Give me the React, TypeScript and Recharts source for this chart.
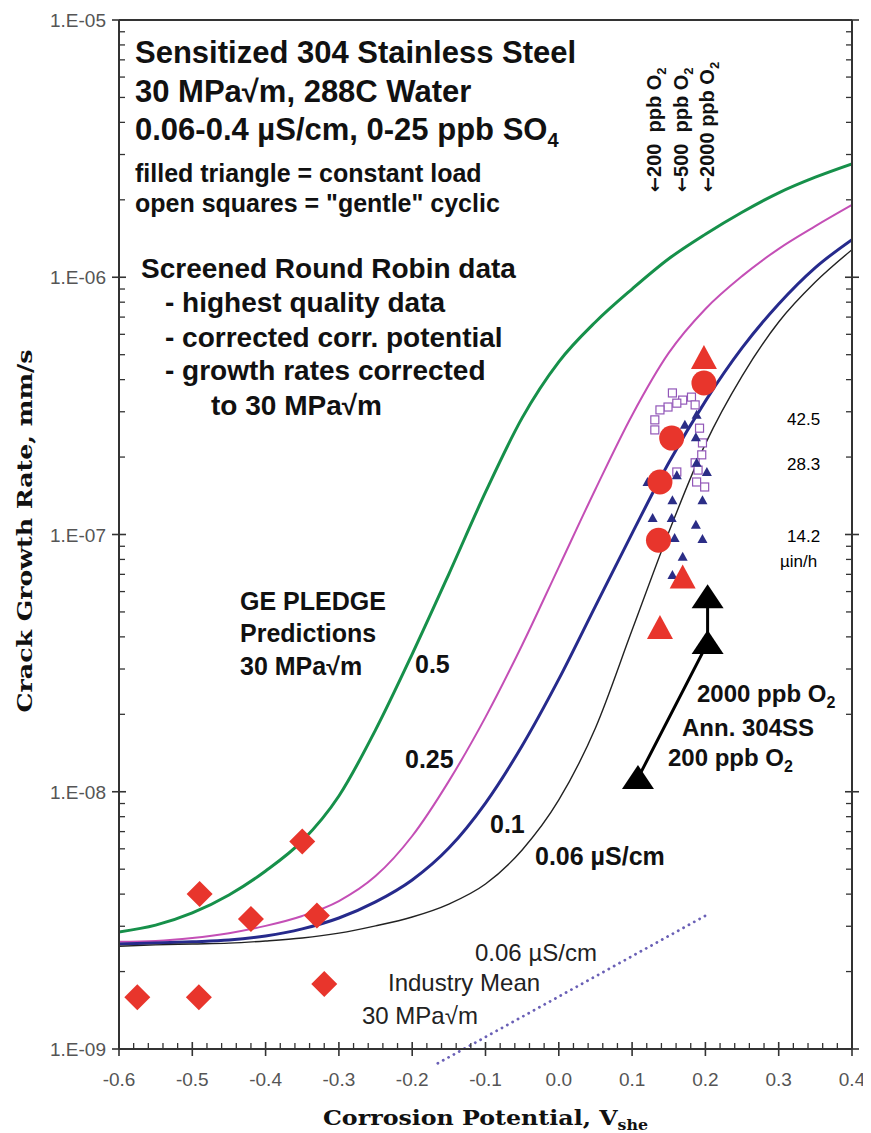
import React from 'react';
import { ComposedChart, Line, Scatter, XAxis, YAxis, ReferenceLine } from 'recharts';

// Corrosion potential grid (V_she) on which the PLEDGE curves are tabulated
const potentials = [-0.6, -0.55, -0.5, -0.45, -0.4, -0.35, -0.3, -0.25, -0.2, -0.15, -0.1, -0.05, 0, 0.05, 0.1, 0.15, 0.2, 0.25, 0.3, 0.35, 0.4];

// GE PLEDGE predictions, crack growth rate in mm/s, one list per conductivity (uS/cm)
const pledge05 = [2.85e-9, 3.03e-9, 3.38e-9, 3.97e-9, 4.92e-9, 6.44e-9, 9.63e-9, 1.74e-8, 3.43e-8, 7.02e-8, 1.46e-7, 2.84e-7, 4.69e-7, 6.7e-7, 9.0e-7, 1.18e-6, 1.47e-6, 1.79e-6, 2.13e-6, 2.45e-6, 2.76e-6];
const pledge025 = [2.61e-9, 2.63e-9, 2.7e-9, 2.82e-9, 3.01e-9, 3.29e-9, 3.76e-9, 4.7e-9, 6.73e-9, 1.1e-8, 1.95e-8, 3.72e-8, 7.47e-8, 1.5e-7, 2.91e-7, 5.08e-7, 7.53e-7, 1.01e-6, 1.29e-6, 1.58e-6, 1.91e-6];
const pledge01 = [2.56e-9, 2.58e-9, 2.61e-9, 2.65e-9, 2.75e-9, 2.93e-9, 3.23e-9, 3.73e-9, 4.54e-9, 6.04e-9, 9.04e-9, 1.51e-8, 2.74e-8, 5.27e-8, 1.01e-7, 1.9e-7, 3.3e-7, 5.31e-7, 7.87e-7, 1.09e-6, 1.4e-6];
const pledge006 = [2.51e-9, 2.54e-9, 2.56e-9, 2.58e-9, 2.63e-9, 2.7e-9, 2.82e-9, 3.01e-9, 3.26e-9, 3.66e-9, 4.38e-9, 5.94e-9, 9.29e-9, 1.77e-8, 4.25e-8, 1.02e-7, 2.25e-7, 4.13e-7, 6.7e-7, 9.58e-7, 1.28e-6];

// Industry mean line for 0.06 uS/cm (end points)
const industryMean = [
  { x: -0.165, y: 8.8e-10 },
  { x: 0.202, y: 3.32e-9 },
];

// Screened round robin data
const roundRobinCircles = [
  { x: 0.198, y: 3.88e-7 },
  { x: 0.154, y: 2.37e-7 },
  { x: 0.138, y: 1.6e-7 },
  { x: 0.136, y: 9.5e-8 },
];
const roundRobinTriangles = [
  { x: 0.198, y: 4.85e-7 },
  { x: 0.169, y: 6.8e-8 },
  { x: 0.138, y: 4.33e-8 },
];
const lowPotentialDiamonds = [
  { x: -0.575, y: 1.59e-9 },
  { x: -0.491, y: 1.59e-9 },
  { x: -0.32, y: 1.79e-9 },
  { x: -0.49, y: 4.0e-9 },
  { x: -0.42, y: 3.2e-9 },
  { x: -0.33, y: 3.3e-9 },
  { x: -0.35, y: 6.4e-9 },
];

// constant load (filled triangles) and "gentle" cyclic (open squares)
const constantLoad = [
  { x: 0.172, y: 2.67e-7 }, { x: 0.188, y: 2.92e-7 }, { x: 0.187, y: 2.39e-7 },
  { x: 0.161, y: 1.7e-7 }, { x: 0.202, y: 1.75e-7 }, { x: 0.121, y: 1.6e-7 },
  { x: 0.155, y: 1.36e-7 }, { x: 0.196, y: 1.36e-7 }, { x: 0.128, y: 1.16e-7 },
  { x: 0.154, y: 1.16e-7 }, { x: 0.187, y: 1.09e-7 }, { x: 0.158, y: 9.7e-8 },
  { x: 0.196, y: 9.6e-8 }, { x: 0.169, y: 8.2e-8 }, { x: 0.155, y: 6.96e-8 },
  { x: 0.188, y: 1.9e-7 },
];
const gentleCyclic = [
  { x: 0.155, y: 3.55e-7 }, { x: 0.169, y: 3.33e-7 }, { x: 0.181, y: 3.42e-7 },
  { x: 0.149, y: 3.13e-7 }, { x: 0.138, y: 3.05e-7 }, { x: 0.131, y: 2.79e-7 },
  { x: 0.131, y: 2.55e-7 }, { x: 0.161, y: 3.24e-7 }, { x: 0.192, y: 2.59e-7 },
  { x: 0.196, y: 2.27e-7 }, { x: 0.195, y: 2.04e-7 }, { x: 0.186, y: 1.9e-7 },
  { x: 0.19, y: 1.78e-7 }, { x: 0.161, y: 1.75e-7 }, { x: 0.188, y: 1.6e-7 },
  { x: 0.199, y: 1.53e-7 }, { x: 0.186, y: 3.19e-7 },
];

// annealed 304SS, 200 -> 2000 ppb O2
const annealed = [
  { x: 0.108, y: 1.13e-8 },
  { x: 0.203, y: 3.79e-8 },
  { x: 0.203, y: 5.7e-8 },
];

// axis ticks: majors every 0.1 V / decade, minors in between
const xMajor = [-0.6, -0.5, -0.4, -0.3, -0.2, -0.1, 0, 0.1, 0.2, 0.3, 0.4];
const xTicks: number[] = [];
for (let i = 0; i <= 50; i++) xTicks.push(Math.round((-0.6 + i * 0.02) * 100) / 100);
const yDecades = [1e-9, 1e-8, 1e-7, 1e-6, 1e-5];
const yTicks: number[] = [];
yDecades.forEach((d, i) => {
  if (i === yDecades.length - 1) { yTicks.push(d); return; }
  for (let m = 1; m <= 9; m++) yTicks.push(m * d);
});

const toPoints = (ys: number[]) => potentials.map((x, i) => ({ x, y: ys[i] }));

const AXIS = '#333';
const SANS = '"Liberation Sans", Arial, sans-serif';
const SERIF = '"DejaVu Serif", serif';
const RED = '#e8352c';

const isXMajor = (v: number) => xMajor.some((m) => Math.abs(m - v) < 1e-6);
const isYMajor = (v: number) => Math.abs(Math.log10(v) - Math.round(Math.log10(v))) < 1e-6;

const XTick = (props: any) => {
  const { x, y, payload, side } = props;
  const v = payload.value;
  const major = isXMajor(v);
  const inward = side === 'bottom' ? -1 : 1;
  return (
    <g>
      {major ? (
        <line x1={x} x2={x} y1={y - 7} y2={y + 7} stroke={AXIS} strokeWidth={1.6} />
      ) : (
        <line x1={x} x2={x} y1={y} y2={y + inward * 6} stroke={AXIS} strokeWidth={1.3} />
      )}
      {major && side === 'bottom' && (
        <text x={x} y={y + 37} textAnchor="middle" fontFamily={SANS} fontSize={19} fill="#555">
          {v.toFixed(1)}
        </text>
      )}
    </g>
  );
};

const YTick = (props: any) => {
  const { x, y, payload, side } = props;
  const v = payload.value;
  const major = isYMajor(v);
  const inward = side === 'left' ? 1 : -1;
  const exp = -Math.round(Math.log10(v));
  return (
    <g>
      {major ? (
        <line x1={x - 7} x2={x + 7} y1={y} y2={y} stroke={AXIS} strokeWidth={1.6} />
      ) : (
        <line x1={x} x2={x + inward * 6} y1={y} y2={y} stroke={AXIS} strokeWidth={1.3} />
      )}
      {major && side === 'left' && (
        <text x={x - 13} y={y + 7} textAnchor="end" fontFamily={SANS} fontSize={19} fill="#555">
          {`1.E-${String(exp).padStart(2, '0')}`}
        </text>
      )}
    </g>
  );
};

const Diamond = (p: any) => (
  <polygon points={`${p.cx},${p.cy - 13} ${p.cx + 13},${p.cy} ${p.cx},${p.cy + 13} ${p.cx - 13},${p.cy}`} fill={RED} />
);
const BigCircle = (p: any) => <circle cx={p.cx} cy={p.cy} r={12.5} fill={RED} />;
const BigTriangle = (p: any) => (
  <polygon points={`${p.cx},${p.cy - 13} ${p.cx + 13},${p.cy + 11} ${p.cx - 13},${p.cy + 11}`} fill={RED} />
);
const BlackTriangle = (p: any) => (
  <polygon points={`${p.cx},${p.cy - 13} ${p.cx + 16},${p.cy + 11} ${p.cx - 16},${p.cy + 11}`} fill="#000" />
);
const SmallTriangle = (p: any) => (
  <polygon points={`${p.cx},${p.cy - 5} ${p.cx + 5},${p.cy + 4} ${p.cx - 5},${p.cy + 4}`} fill="#2b2d86" />
);
const OpenSquare = (p: any) => (
  <rect x={p.cx - 4} y={p.cy - 4} width={8} height={8} fill="#fff" stroke="#9257b8" strokeWidth={1.2} />
);

const Sub = ({ children, size }: { children: React.ReactNode; size: number }) => (
  <tspan fontSize={size} dy={size * 0.35}>{children}</tspan>
);

// rotated oxygen level label, arrow first so it points down once turned
const O2Label = ({ x, level }: { x: number; level: string }) => (
  <text
    transform={`translate(${x},192) rotate(-90)`}
    fontFamily={SANS}
    fontWeight="bold"
    fontSize={20}
    fill="#111"
    style={{ whiteSpace: 'pre' }}
  >
    <tspan fontFamily='"DejaVu Sans", sans-serif' fontSize={18}>←</tspan>
    {`${level} ppb O`}
    <Sub size={13}>2</Sub>
  </text>
);

const App: React.FC = () => {
  const bold = { fontFamily: SANS, fontWeight: 700, fill: '#111' } as const;
  const plain = { fontFamily: SANS, fill: '#222' } as const;
  return (
    <div style={{ position: 'relative', width: 863, height: 1125, background: '#fff' }}>
      <ComposedChart width={863} height={1125} margin={{ top: 0, right: 0, bottom: 0, left: 0 }}>
        <XAxis
          xAxisId="x"
          dataKey="x"
          type="number"
          domain={[-0.6, 0.4]}
          allowDataOverflow
          ticks={xTicks}
          interval={0}
          height={84}
          tickSize={0}
          tickMargin={0}
          tickLine={false}
          axisLine={{ stroke: AXIS, strokeWidth: 2 }}
          tick={(p: any) => <XTick {...p} side="bottom" />}
        />
        <XAxis
          xAxisId="top"
          orientation="top"
          type="number"
          domain={[-0.6, 0.4]}
          allowDataOverflow
          ticks={xTicks}
          interval={0}
          height={12}
          tickSize={0}
          tickMargin={0}
          tickLine={false}
          axisLine={{ stroke: AXIS, strokeWidth: 2 }}
          tick={(p: any) => <XTick {...p} side="top" />}
        />
        <YAxis
          yAxisId="y"
          dataKey="y"
          type="number"
          scale="log"
          domain={[1e-9, 1e-5]}
          allowDataOverflow
          ticks={yTicks}
          interval={0}
          width={111}
          tickSize={0}
          tickMargin={0}
          tickLine={false}
          axisLine={{ stroke: AXIS, strokeWidth: 2 }}
          tick={(p: any) => <YTick {...p} side="left" />}
        />
        <YAxis
          yAxisId="right"
          orientation="right"
          type="number"
          scale="log"
          domain={[1e-9, 1e-5]}
          allowDataOverflow
          ticks={yTicks}
          interval={0}
          width={19}
          tickSize={0}
          tickMargin={0}
          tickLine={false}
          axisLine={{ stroke: AXIS, strokeWidth: 2 }}
          tick={(p: any) => <YTick {...p} side="right" />}
        />

        <ReferenceLine
          xAxisId="x"
          yAxisId="y"
          segment={industryMean}
          ifOverflow="visible"
          stroke="#6a60b6"
          strokeWidth={2.8}
          strokeDasharray="0.1 6"
          strokeLinecap="round"
        />

        <Line xAxisId="x" yAxisId="y" data={toPoints(pledge05)} dataKey="y" type="monotone" stroke="#16904a" strokeWidth={3} dot={false} isAnimationActive={false} />
        <Line xAxisId="x" yAxisId="y" data={toPoints(pledge025)} dataKey="y" type="monotone" stroke="#c44fb6" strokeWidth={2} dot={false} isAnimationActive={false} />
        <Line xAxisId="x" yAxisId="y" data={toPoints(pledge01)} dataKey="y" type="monotone" stroke="#262a8c" strokeWidth={3} dot={false} isAnimationActive={false} />
        <Line xAxisId="x" yAxisId="y" data={toPoints(pledge006)} dataKey="y" type="monotone" stroke="#222" strokeWidth={1.4} dot={false} isAnimationActive={false} />

        <Scatter xAxisId="x" yAxisId="y" data={gentleCyclic} dataKey="y" shape={OpenSquare} isAnimationActive={false} />
        <Scatter xAxisId="x" yAxisId="y" data={constantLoad} dataKey="y" shape={SmallTriangle} isAnimationActive={false} />
        <Scatter xAxisId="x" yAxisId="y" data={lowPotentialDiamonds} dataKey="y" shape={Diamond} isAnimationActive={false} />
        <Scatter xAxisId="x" yAxisId="y" data={roundRobinTriangles} dataKey="y" shape={BigTriangle} isAnimationActive={false} />
        <Scatter xAxisId="x" yAxisId="y" data={roundRobinCircles} dataKey="y" shape={BigCircle} isAnimationActive={false} />

        <Line xAxisId="x" yAxisId="y" data={annealed} dataKey="y" type="linear" stroke="#000" strokeWidth={3} dot={false} isAnimationActive={false} />
        <Scatter xAxisId="x" yAxisId="y" data={annealed} dataKey="y" shape={BlackTriangle} isAnimationActive={false} />
      </ComposedChart>

      <svg
        width={871}
        height={1133}
        style={{ position: 'absolute', left: -8, top: -8, pointerEvents: 'none', overflow: 'visible' }}
      >
        {/* title block */}
        <g {...bold} fontSize={31}>
          <text x={135} y={63}>Sensitized 304 Stainless Steel</text>
          <text x={135} y={102}>30 MPa√m, 288C Water</text>
          <text x={135} y={140}>
            0.06-0.4 µS/cm, 0-25 ppb SO<Sub size={20}>4</Sub>
          </text>
        </g>
        <g {...bold} fontSize={25}>
          <text x={135} y={182}>filled triangle = constant load</text>
          <text x={135} y={212}>open squares = "gentle" cyclic</text>
        </g>
        <g {...bold} fontSize={28}>
          <text x={141} y={278}>Screened Round Robin data</text>
          <text x={165} y={312}>- highest quality data</text>
          <text x={165} y={347}>- corrected corr. potential</text>
          <text x={165} y={380}>- growth rates corrected</text>
          <text x={211} y={415}>to 30 MPa√m</text>
        </g>

        {/* oxygen markers along the top */}
        <O2Label x={661} level={'200 '} />
        <O2Label x={688} level={'500 '} />
        <O2Label x={714} level={'2000'} />

        {/* PLEDGE curve labels */}
        <g {...bold} fontSize={25}>
          <text x={240} y={610}>GE PLEDGE</text>
          <text x={240} y={642}>Predictions</text>
          <text x={240} y={675}>30 MPa√m</text>
          <text x={415} y={673}>0.5</text>
          <text x={405} y={768}>0.25</text>
          <text x={490} y={833}>0.1</text>
          <text x={535} y={865}>0.06 µS/cm</text>
        </g>

        {/* growth rate in micro-inch per hour */}
        <g fontFamily={SANS} fill="#000" fontSize={17}>
          <text x={787} y={425}>42.5</text>
          <text x={787} y={470}>28.3</text>
          <text x={787} y={542}>14.2</text>
          <text x={780} y={567}>µin/h</text>
        </g>

        {/* annealed material */}
        <g {...bold} fontSize={24}>
          <text x={697} y={702}>
            2000 ppb O<Sub size={16}>2</Sub>
          </text>
          <text x={682} y={736}>Ann. 304SS</text>
          <text x={668} y={766}>
            200 ppb O<Sub size={16}>2</Sub>
          </text>
        </g>

        {/* industry mean */}
        <g {...plain} fontSize={24}>
          <text x={475} y={961}>0.06 µS/cm</text>
          <text x={388} y={991}>Industry Mean</text>
          <text x={362} y={1024}>30 MPa√m</text>
        </g>

        {/* axis titles */}
        <text
          transform="translate(32,531) rotate(-90)"
          textAnchor="middle"
          fontFamily={SERIF}
          fontWeight="bold"
          fontSize={21}
          fill="#111"
          textLength={363}
          lengthAdjust="spacingAndGlyphs"
        >
          Crack Growth Rate, mm/s
        </text>
        <text
          x={323}
          y={1125}
          fontFamily={SERIF}
          fontWeight="bold"
          fontSize={21}
          fill="#111"
          textLength={325}
          lengthAdjust="spacingAndGlyphs"
        >
          Corrosion Potential, V<Sub size={14}>she</Sub>
        </text>
      </svg>
    </div>
  );
};

export default App;
